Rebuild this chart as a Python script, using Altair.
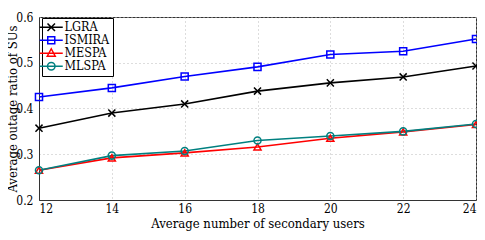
import altair as alt
import pandas as pd

x_vals = [12, 14, 16, 18, 20, 22, 24]
series_names = ["LGRA", "ISMIRA", "MESPA", "MLSPA"]
lgra = [0.357, 0.390, 0.410, 0.438, 0.456, 0.469, 0.493]
ismira = [0.425, 0.445, 0.470, 0.491, 0.518, 0.525, 0.552]
mespa = [0.265, 0.292, 0.303, 0.316, 0.335, 0.349, 0.365]
mlspa = [0.265, 0.297, 0.307, 0.330, 0.340, 0.350, 0.366]
colors = ["#000000", "#0000ff", "#ff0000", "#008080"]
x_ticks = [12, 14, 16, 18, 20, 22, 24]
y_ticks = [0.2, 0.3, 0.4, 0.5, 0.6]

rows = []
for name, vals in zip(series_names, [lgra, ismira, mespa, mlspa]):
    for xv, yv in zip(x_vals, vals):
        rows.append({"x": xv, "y": yv, "series": name})
df = pd.DataFrame(rows)

FONT = "DejaVu Serif Condensed, DejaVu Serif"
xscale = alt.Scale(domain=[12, 24], nice=False)
yscale = alt.Scale(domain=[0.2, 0.6], nice=False)
cscale = alt.Scale(domain=series_names, range=colors)

xenc = alt.X("x:Q", scale=xscale,
             axis=alt.Axis(values=x_ticks, title="Average number of secondary users",
                           grid=True, gridDash=[1, 3], gridColor="#bbbbbb",
                           ticks=False, labelPadding=3,
                           titleY=23, titleBaseline="middle"))
yenc = alt.Y("y:Q", scale=yscale,
             axis=alt.Axis(values=y_ticks, format=".1f", title="Average outage ratio of SUs",
                           grid=True, gridDash=[1, 3], gridColor="#bbbbbb",
                           ticks=False, labelPadding=6,
                           titleX=-27, titleBaseline="middle"))

base = alt.Chart(df)
lines = base.mark_line(strokeWidth=1.6).encode(
    x=xenc, y=yenc, color=alt.Color("series:N", scale=cscale)
)

marker_shapes = {
    "LGRA": "M-1,-1L1,1M-1,1L1,-1",
    "ISMIRA": "square",
    "MESPA": "triangle-up",
    "MLSPA": "circle",
}
points = []
for name in series_names:
    points.append(
        base.transform_filter(alt.datum.series == name)
        .mark_point(shape=marker_shapes[name], filled=False, size=50, strokeWidth=1.5, opacity=1)
        .encode(x="x:Q", y="y:Q", color=alt.Color("series:N", scale=cscale))
    )

legend_paths = [
    "M-2.3,0L2.3,0M-0.75,-0.75L0.75,0.75M-0.75,0.75L0.75,-0.75",
    "M-2.3,0L2.3,0M-0.7,-0.7L0.7,-0.7L0.7,0.7L-0.7,0.7Z",
    "M-2.3,0L2.3,0M0,-0.9L0.8,0.6L-0.8,0.6Z",
    "M-2.3,0L2.3,0M0.75,0A0.75,0.75 0 1 1 -0.75,0A0.75,0.75 0 1 1 0.75,0Z",
]
leg_props = dict(title=None, orient="none", legendX=3, legendY=1,
                 symbolSize=100, symbolStrokeWidth=1.5,
                 labelFont=FONT, labelFontSize=12.5, labelColor="black",
                 labelOffset=7, rowPadding=-3, padding=3,
                 strokeColor="black", fillColor="white",
                 symbolFillColor="transparent")
leg = base.transform_filter(alt.datum.y < 0).mark_point(filled=False, strokeWidth=1.5, opacity=1).encode(
    x="x:Q", y="y:Q",
    color=alt.Color("series:N", scale=cscale, legend=alt.Legend(**leg_props)),
    shape=alt.Shape("series:N", scale=alt.Scale(domain=series_names, range=legend_paths),
                    legend=alt.Legend(**leg_props)),
)

chart = alt.layer(lines, *points, leg).properties(
    width=437, height=183,
    autosize=alt.AutoSizeParams(type="none"),
    padding={"left": 31, "top": 9, "right": 1, "bottom": 32},
).configure_view(stroke="#333333", strokeWidth=1).configure_axis(
    labelFont=FONT, labelFontSize=12, labelColor="black",
    titleFont=FONT, titleFontSize=13, titleFontWeight="normal", titleColor="black",
    domainColor="#333333", tickColor="#333333",
).configure_legend(symbolType="circle", rowPadding=-3)

chart.save("out.html", embed_options={"renderer": "svg", "actions": False})
